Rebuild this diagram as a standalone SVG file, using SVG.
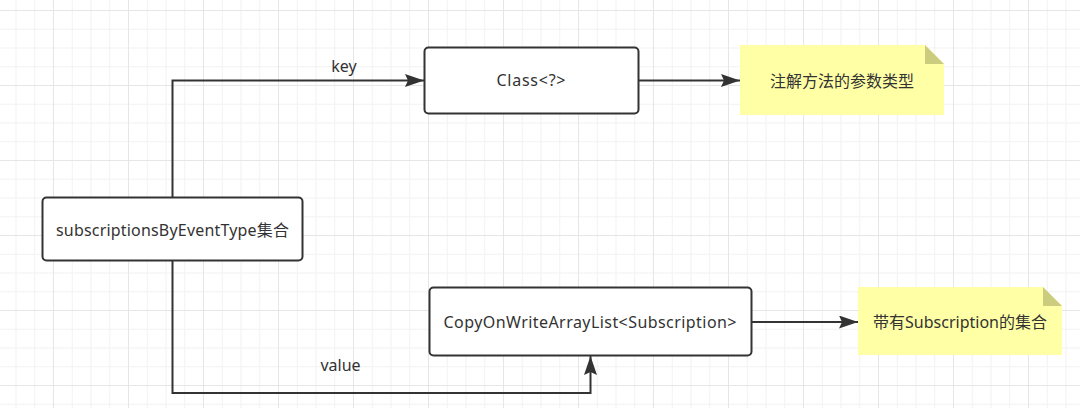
<svg xmlns="http://www.w3.org/2000/svg" width="1080" height="408" viewBox="0 0 1080 408">
  <style>
    .box { fill: #ffffff; stroke: #333333; stroke-width: 2; }
    .note { fill: #ffffa6; stroke: none; }
    .fold { fill: #cccc7e; stroke: none; }
    .edge { fill: none; stroke: #333333; stroke-width: 2; marker-end: url(#arrow); }
    text { font-family: "Noto Sans", "Noto Sans CJK SC", sans-serif; font-size: 16px; fill: #333333; text-anchor: middle; dominant-baseline: central; }
  </style>
  <defs>
    <pattern id="grid" patternUnits="userSpaceOnUse" x="53" y="10" width="75" height="75">
      <rect x="18.75" y="0" width="1" height="75" fill="#f2f2f2"/>
      <rect x="37.5" y="0" width="1" height="75" fill="#f2f2f2"/>
      <rect x="56.25" y="0" width="1" height="75" fill="#f2f2f2"/>
      <rect x="0" y="18.75" width="75" height="1" fill="#f2f2f2"/>
      <rect x="0" y="37.5" width="75" height="1" fill="#f2f2f2"/>
      <rect x="0" y="56.25" width="75" height="1" fill="#f2f2f2"/>
      <rect x="0" y="0" width="1" height="75" fill="#e6e6e6"/>
      <rect x="0" y="0" width="75" height="1" fill="#e6e6e6"/>
    </pattern>
    <marker id="arrow" markerUnits="userSpaceOnUse" viewBox="0 0 19 13" refX="19" refY="6.5" markerWidth="19" markerHeight="13" orient="auto">
      <path d="M0,0 L19,6.5 L0,13 L3,6.5 Z" fill="#333333"/>
    </marker>
  </defs>
  <rect x="0" y="0" width="1080" height="408" fill="#ffffff"/>
  <rect x="0" y="0" width="1080" height="408" fill="url(#grid)"/>

  <g id="connectors">
    <path class="edge" d="M172.5 197 V80.5 H424"/>
    <path class="edge" d="M172.5 261 V393 H590.5 V356"/>
    <path class="edge" d="M639 80.5 H740"/>
    <path class="edge" d="M752 322 H858"/>
    <text x="344" y="65.5">key</text>
    <text x="340.5" y="365">value</text>
  </g>

  <g id="node-subscriptions">
    <rect class="box" x="42.5" y="197.5" width="260" height="63" rx="4"/>
    <text x="172.5" y="229.5" textLength="233" lengthAdjust="spacing">subscriptionsByEventType集合</text>
  </g>

  <g id="node-class">
    <rect class="box" x="424.5" y="47.5" width="214" height="66" rx="4"/>
    <text x="531" y="80" textLength="69" lengthAdjust="spacing">Class&lt;?&gt;</text>
  </g>

  <g id="node-copyonwrite">
    <rect class="box" x="429.5" y="287.5" width="322" height="68" rx="4"/>
    <text x="590" y="321.5" textLength="293" lengthAdjust="spacing">CopyOnWriteArrayList&lt;Subscription&gt;</text>
  </g>

  <g id="note-param-type">
    <path class="note" d="M740 45 H925 L944 64 V115 H740 Z"/>
    <path class="fold" d="M925 45 L944 64 H925 Z"/>
    <text x="842" y="81">注解方法的参数类型</text>
  </g>

  <g id="note-subscription-set">
    <path class="note" d="M858 287 H1043 L1062 306 V355 H858 Z"/>
    <path class="fold" d="M1043 287 L1062 306 H1043 Z"/>
    <text x="960" y="322">带有Subscription的集合</text>
  </g>
</svg>
